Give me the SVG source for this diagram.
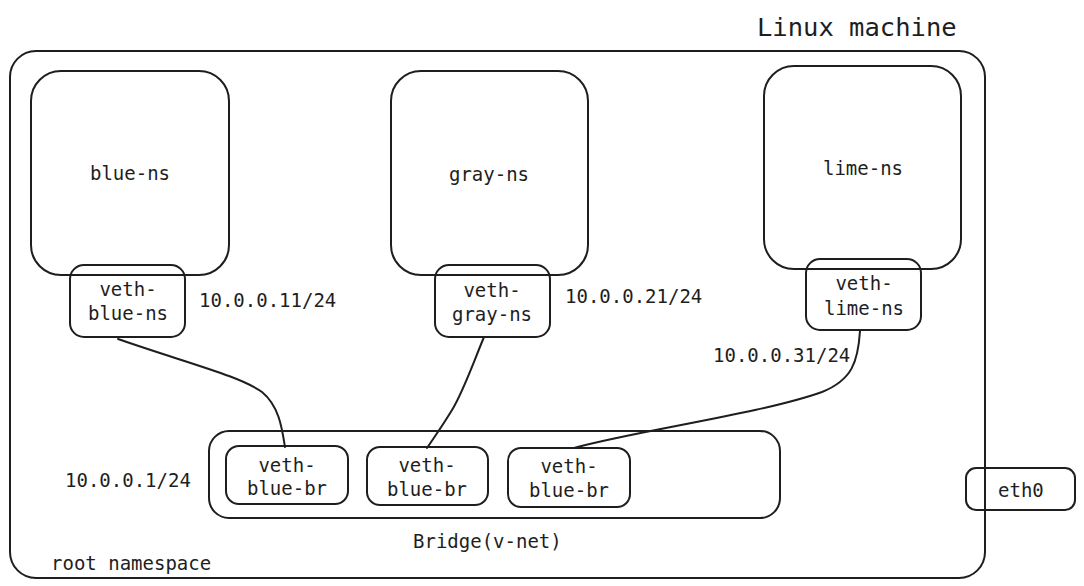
<svg xmlns="http://www.w3.org/2000/svg" width="1084" height="586" viewBox="0 0 1084 586">
<style>
.box{fill:none;stroke:#1e1e1e;stroke-width:2;stroke-linejoin:round}
.wbox{fill:#ffffff;stroke:#1e1e1e;stroke-width:2}
.t{font-family:"DejaVu Sans Mono","Liberation Mono",monospace;font-size:19px;fill:#1e1e1e}
.c{text-anchor:middle}
.con{fill:none;stroke:#1e1e1e;stroke-width:2;stroke-linecap:round}
</style>
<rect width="1084" height="586" fill="#ffffff"/>
<g id="linux-machine">
<text class="t" x="757" y="36" style="font-size:25.5px">Linux machine</text>
</g>
<g id="root-namespace">
<rect class="box" x="10" y="51" width="975" height="527" rx="26"/>
<text class="t" x="51" y="570">root namespace</text>
</g>
<g id="blue-ns">
<rect class="box" x="31" y="71" width="198" height="204" rx="30"/>
<text class="t c" x="130" y="180">blue-ns</text>
</g>
<g id="gray-ns">
<rect class="box" x="391" y="71" width="197" height="204" rx="30"/>
<text class="t c" x="489" y="181">gray-ns</text>
</g>
<g id="lime-ns">
<rect class="box" x="764" y="66" width="197" height="203" rx="30"/>
<text class="t c" x="863" y="175">lime-ns</text>
</g>
<g id="veth-blue-ns">
<rect class="box" x="70" y="265" width="115" height="72" rx="14"/>
<text class="t c" x="128" y="296">veth-</text>
<text class="t c" x="128" y="320">blue-ns</text>
</g>
<g id="veth-gray-ns">
<rect class="box" x="435" y="265" width="115" height="72" rx="14"/>
<text class="t c" x="492" y="297">veth-</text>
<text class="t c" x="492" y="321">gray-ns</text>
</g>
<g id="veth-lime-ns">
<rect class="box" x="806" y="259" width="115" height="71" rx="14"/>
<text class="t c" x="864" y="290">veth-</text>
<text class="t c" x="864" y="315">lime-ns</text>
</g>
<g id="ip-labels">
<text class="t" x="199" y="307">10.0.0.11/24</text>
<text class="t" x="565" y="303">10.0.0.21/24</text>
<text class="t" x="713" y="362">10.0.0.31/24</text>
<text class="t" x="65" y="487">10.0.0.1/24</text>
</g>
<g id="bridge">
<rect class="box" x="209" y="431" width="571" height="87" rx="20"/>
<text class="t" x="413" y="548">Bridge(v-net)</text>
</g>
<g id="veth-blue-br-1">
<rect class="box" x="226" y="446" width="122" height="58" rx="13"/>
<text class="t c" x="287" y="472">veth-</text>
<text class="t c" x="287" y="495">blue-br</text>
</g>
<g id="veth-blue-br-2">
<rect class="box" x="367" y="447" width="121" height="58" rx="13"/>
<text class="t c" x="427" y="472">veth-</text>
<text class="t c" x="427" y="496">blue-br</text>
</g>
<g id="veth-blue-br-3">
<rect class="box" x="508" y="448" width="122" height="59" rx="13"/>
<text class="t c" x="569" y="473">veth-</text>
<text class="t c" x="569" y="497">blue-br</text>
</g>
<g id="eth0">
<rect class="box" x="966" y="468" width="109" height="42" rx="10"/>
<text class="t" x="998" y="497">eth0</text>
</g>
<g id="connectors">
<path class="con" d="M118,339 C190,364 240,376 262,392 C279,406 282,428 285,447"/>
<path class="con" d="M484,337 C472,366 463,392 452,410 C443,425 435,436 427,448"/>
<path class="con" d="M860,331 C858,362 852,380 822,392 C760,414 640,430 574,448"/>
</g>
</svg>
